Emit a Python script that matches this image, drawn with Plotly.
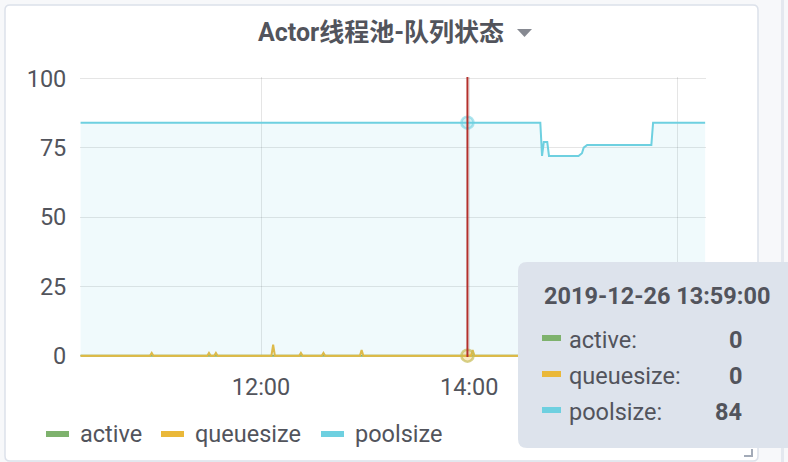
import numpy as np
import pandas as pd
import plotly.graph_objects as go

# ---------------- data ----------------
DAY = "2019-12-26 "
series_names = ["active", "queuesize", "poolsize"]
series_colors = ["#7EB26D", "#EAB839", "#6ED0E0"]

# poolsize: points where the value changes (minute resolution)
pool_times = ["10:16", "14:41", "14:42", "14:43", "14:45", "14:46", "15:03",
              "15:05", "15:06", "15:08", "15:45", "15:46", "16:16"]
pool_values = [84, 84, 72, 77, 77, 72, 72, 73, 75, 76, 76, 84, 84]

# queuesize: zero except for a few short spikes
queue_spike_times = ["10:57", "11:30", "11:34", "12:07", "12:23", "12:36", "12:58", "14:02"]
queue_spike_values = [1, 1, 1, 4, 1, 1, 2, 2]

# active: zero over the whole window
series_start, series_end = "10:16", "16:16"

hover_time = "13:59"
title_text = "Actor线程池-队列状态"
y_ticks = [0, 25, 50, 75, 100]
x_tick_times = ["12:00", "14:00", "16:00"]
x_tick_labels = ["12:00", "14:00", ""]   # 16:00 label is hidden under the tooltip

# ---------------- build series ----------------
minutes = pd.date_range(DAY + series_start, DAY + series_end, freq="min")
active = np.zeros(len(minutes))
queue = pd.Series(0.0, index=minutes)
for t, v in zip(queue_spike_times, queue_spike_values):
    queue[pd.Timestamp(DAY + t)] = v
pool_x = [pd.Timestamp(DAY + t) for t in pool_times]
pool = pd.Series(pool_values, index=pool_x)

hover_ts = pd.Timestamp(DAY + hover_time)
hover_vals = {
    "active": 0.0,
    "queuesize": float(queue[hover_ts]),
    "poolsize": float(pool.reindex(minutes, method="ffill")[hover_ts]),
}

FONT = "Roboto, 'Noto Sans CJK SC', sans-serif"
TXT = "#52545c"

# plot area in pixels
L, T, W, H = 80, 77, 626, 280
FW, FH = 788, 462


def px(x):
    return (x - L) / W


def py(y):
    return (T + H - y) / H


def P(x, y):
    return f"{px(x):.5f},{py(y):.5f}"


def rrect(x0, y0, x1, y1, r):
    return (f"M {P(x0 + r, y0)} L {P(x1 - r, y0)} Q {P(x1, y0)} {P(x1, y0 + r)} "
            f"L {P(x1, y1 - r)} Q {P(x1, y1)} {P(x1 - r, y1)} L {P(x0 + r, y1)} "
            f"Q {P(x0, y1)} {P(x0, y1 - r)} L {P(x0, y0 + r)} Q {P(x0, y0)} {P(x0 + r, y0)} Z")


fig = go.Figure()
fig.add_trace(go.Scatter(x=minutes, y=active, mode="lines", name="active",
                         line=dict(color=series_colors[0], width=2), hoverinfo="skip"))
fig.add_trace(go.Scatter(x=queue.index, y=queue.values, mode="lines", name="queuesize",
                         line=dict(color=series_colors[1], width=2), hoverinfo="skip"))
fig.add_trace(go.Scatter(x=pool.index, y=pool.values, mode="lines", name="poolsize",
                         line=dict(color=series_colors[2], width=2),
                         fill="tozeroy", fillcolor="rgba(110,208,224,0.1)", hoverinfo="skip"))
# hover highlight rings
fig.add_trace(go.Scatter(x=[hover_ts], y=[hover_vals["poolsize"]], mode="markers",
                         marker=dict(size=12, color="rgba(110,208,224,0.3)",
                                     line=dict(color="rgba(110,208,224,0.55)", width=2.5)),
                         cliponaxis=False, hoverinfo="skip"))
fig.add_trace(go.Scatter(x=[hover_ts], y=[hover_vals["queuesize"]], mode="markers",
                         marker=dict(size=12, color="rgba(234,184,57,0.3)",
                                     line=dict(color="rgba(200,190,90,0.7)", width=2.5)),
                         cliponaxis=False, hoverinfo="skip"))

shapes = []
annotations = []
# panel
shapes.append(dict(type="path", xref="paper", yref="paper", path=rrect(5, 5, 758, 461, 5),
                   fillcolor="white", line=dict(color="#dce1ea", width=1.5), layer="below"))
shapes.append(dict(type="rect", xref="paper", yref="paper", x0=px(781), x1=px(784), y0=py(0), y1=py(FH),
                   fillcolor="#e4e8ef", line=dict(width=0), layer="below"))
# crosshair
shapes.append(dict(type="line", xref="x", yref="paper", x0=hover_ts, x1=hover_ts, y0=0, y1=1,
                   line=dict(color="#b3302c", width=2), layer="above"))
# title caret
shapes.append(dict(type="path", xref="paper", yref="paper",
                   path=f"M {P(517, 29)} L {P(532, 29)} L {P(524.5, 37)} Z",
                   fillcolor="#868991", line=dict(width=0)))
annotations.append(dict(xref="paper", yref="paper", x=px(381), y=py(33), text=f"<b>{title_text}</b>",
                        showarrow=False, xanchor="center", yanchor="middle",
                        font=dict(family=FONT, size=25, color=TXT)))
# legend
leg = [(46, 78), (161, 193), (321, 353)]
for (lx, tx), name, col in zip(leg, series_names, series_colors):
    shapes.append(dict(type="line", xref="paper", yref="paper", x0=px(lx), x1=px(lx + 23),
                       y0=py(434), y1=py(434), line=dict(color=col, width=6)))
    annotations.append(dict(xref="paper", yref="paper", x=px(tx), y=py(434), text=name,
                            showarrow=False, xanchor="left", yanchor="middle",
                            font=dict(family=FONT, size=23.5, color=TXT)))
# resize handle
shapes.append(dict(type="path", xref="paper", yref="paper",
                   path=f"M {P(752, 449)} L {P(752, 456)} L {P(744, 456)}",
                   line=dict(color="#a3abb8", width=2)))
# tooltip
shapes.append(dict(type="path", xref="paper", yref="paper", path=rrect(518, 262, 812, 448, 9),
                   fillcolor="#dde3ec", line=dict(width=0), layer="above"))
annotations.append(dict(xref="paper", yref="paper", x=px(542), y=py(296),
                        text=f"<b>{hover_ts.strftime('%Y-%m-%d %H:%M:%S')}</b>",
                        showarrow=False, xanchor="left", yanchor="middle",
                        font=dict(family=FONT, size=23.5, color=TXT)))
row_y = [338, 374, 410]
for ry, name, col in zip(row_y, series_names, series_colors):
    shapes.append(dict(type="line", xref="paper", yref="paper", x0=px(542), x1=px(561),
                       y0=py(ry), y1=py(ry), line=dict(color=col, width=6)))
    annotations.append(dict(xref="paper", yref="paper", x=px(567), y=py(ry + 2), text=name + ":",
                            showarrow=False, xanchor="left", yanchor="middle",
                            font=dict(family=FONT, size=23.5, color=TXT)))
    v = hover_vals[name]
    annotations.append(dict(xref="paper", yref="paper", x=px(744), y=py(ry + 2),
                            text=f"<b>{v:g}</b>",
                            showarrow=False, xanchor="right", yanchor="middle",
                            font=dict(family=FONT, size=23.5, color=TXT)))

grid = "rgba(0,0,0,0.1)"
fig.update_layout(
    width=FW, height=FH,
    margin=dict(l=L, r=FW - L - W, t=T, b=FH - T - H, autoexpand=False),
    paper_bgcolor="#f7f8fa", plot_bgcolor="rgba(0,0,0,0)",
    showlegend=False,
    shapes=shapes, annotations=annotations,
    xaxis=dict(type="date", range=[DAY + "10:15:40", DAY + "16:16:30"],
               tickmode="array", tickvals=[pd.Timestamp(DAY + t) for t in x_tick_times],
               ticktext=x_tick_labels,
               showgrid=True, gridcolor=grid, gridwidth=1, zeroline=False, showline=False,
               ticks="outside", ticklen=9, tickcolor="rgba(0,0,0,0)",
               tickfont=dict(family=FONT, size=23.5, color=TXT)),
    yaxis=dict(range=[-0.47, 100.47], tickvals=y_ticks,
               showgrid=True, gridcolor=grid, gridwidth=1, zeroline=False, showline=False,
               ticks="outside", ticklen=8, tickcolor="rgba(0,0,0,0)",
               tickfont=dict(family=FONT, size=23.5, color=TXT)),
)

fig.write_html("out.html")
